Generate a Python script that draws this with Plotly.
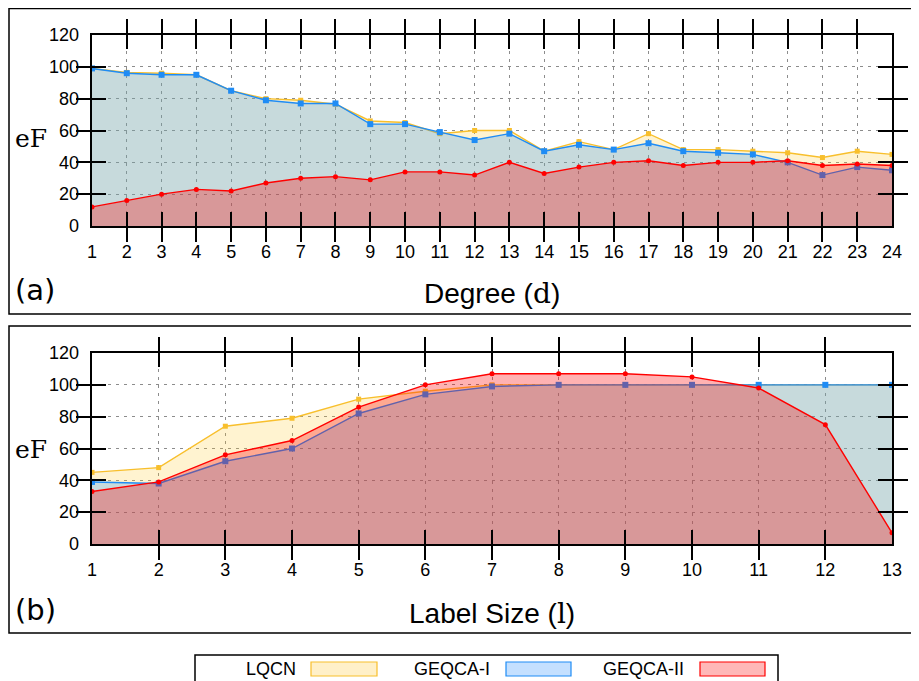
import plotly.graph_objects as go

# ---------------- data ----------------
degree = list(range(1, 25))
lqcn_a = [99, 96.5, 96, 95, 85, 80, 79, 76.5, 66, 65, 58, 60, 60, 47, 53, 48, 58, 48, 48, 47, 46, 43, 47, 45]
geqca1_a = [99, 96, 95, 95, 85, 79, 77, 77, 64, 64, 59, 54, 58, 47, 51, 48, 52, 47, 46, 45, 40, 32, 37, 35]
geqca2_a = [12, 16, 20, 23, 22, 27, 30, 31, 29, 34, 34, 32, 40, 33, 37, 40, 41, 38, 40, 40, 41, 38, 39, 38]

label_size = list(range(1, 14))
lqcn_b = [45, 48, 74, 79, 91, 96, 100, 100, 100, 100, 100, 100, 100]
geqca1_b = [39, 38, 52, 60, 82, 94, 99, 100, 100, 100, 100, 100, 100]
geqca2_b = [33, 39, 56, 65, 86, 100, 107, 107, 107, 105, 98, 75, 7]

series_names = ["LQCN", "GEQCA-I", "GEQCA-II"]
y_ticks = [0, 20, 40, 60, 80, 100, 120]

# ---------------- styles ----------------
OFF = 8                      # page body margin
W, H = 919 - OFF, 681 - OFF
line_cols = ["#f8bf2c", "#1f8cf5", "#ff0000"]
fill_cols = ["rgba(255,200,40,0.22)", "rgba(30,144,255,0.25)", "rgba(255,0,0,0.30)"]
symbols = ["square", "square", "circle"]
msizes = [5, 6, 5]
swatch_fill = ["#fff0c8", "#c4e0ff", "#ffb8b8"]


def px(x):
    return (x - OFF) / W


def py(y):
    return 1 - (y - OFF) / H


fig = go.Figure()

# panel: (x axis, y axis, x label axis, y label axis, x values, series, plot box px)
panels = [
    ("x", "y", "x3", "y3", degree, [lqcn_a, geqca1_a, geqca2_a], (35, 226)),
    ("x2", "y2", "x4", "y4", label_size, [lqcn_b, geqca1_b, geqca2_b], (353, 544)),
]
for xa, ya, xl, yl, xs, ys_list, _ in panels:
    for i, ys in enumerate(ys_list):
        fig.add_trace(go.Scatter(
            x=xs, y=ys, xaxis=xa, yaxis=ya, name=series_names[i],
            mode="lines+markers", fill="tozeroy", fillcolor=fill_cols[i],
            line=dict(color=line_cols[i], width=1.4),
            marker=dict(symbol=symbols[i], size=msizes[i], color=line_cols[i], line=dict(width=0)),
            showlegend=False,
        ))
    # invisible traces that carry the tick-label axes
    fig.add_trace(go.Scatter(x=xs, y=ys_list[0], xaxis=xl, yaxis=ya, mode="markers",
                             marker=dict(opacity=0), showlegend=False, hoverinfo="skip"))
    fig.add_trace(go.Scatter(x=xs, y=ys_list[0], xaxis=xa, yaxis=yl, mode="markers",
                             marker=dict(opacity=0), showlegend=False, hoverinfo="skip"))

frame_axis = dict(
    showline=True, linecolor="black", linewidth=2, mirror="allticks",
    ticks="inside", ticklen=14, tickwidth=1.5, tickcolor="black",
    showgrid=True, gridcolor="#8c8c8c", gridwidth=1, griddash="3px,5px",
    zeroline=False, automargin=False, layer="above traces", showticklabels=False,
)
label_axis = dict(
    showline=False, showgrid=False, zeroline=False, ticks="", automargin=False,
    anchor="free", tickfont=dict(family="Liberation Sans", size=18, color="black"),
)

layout_axes = {}
for n, (xa, ya, xl, yl, xs, ys_list, (top, bot)) in enumerate(panels):
    xname = "xaxis" if xa == "x" else "xaxis" + xa[1:]
    yname = "yaxis" if ya == "y" else "yaxis" + ya[1:]
    xdom = [px(92), px(892)]
    ydom = [py(bot), py(top)]
    xr = [xs[0], xs[-1]]
    layout_axes[xname] = dict(domain=xdom, anchor=ya, range=xr, tickvals=xs, **frame_axis)
    layout_axes[yname] = dict(domain=ydom, anchor=xa, range=[0, 120], tickvals=y_ticks, **frame_axis)
    layout_axes["xaxis" + xl[1:]] = dict(domain=xdom, overlaying=xa, range=xr, tickvals=xs,
                                         side="bottom", position=py(bot + 13), **label_axis)
    layout_axes["yaxis" + yl[1:]] = dict(domain=ydom, overlaying=ya, range=[0, 120], tickvals=y_ticks,
                                         side="left", position=px(79), **label_axis)

fig.update_layout(
    width=W, height=H,
    margin=dict(l=0, r=0, t=0, b=0, autoexpand=False),
    paper_bgcolor="white", plot_bgcolor="white",
    showlegend=False,
    **layout_axes,
)

shapes = []
# outer panel boxes
for (t, b) in [(8.5, 314), (326, 633)]:
    shapes.append(dict(type="rect", xref="paper", yref="paper", x0=px(9), x1=px(930),
                       y0=py(b), y1=py(t), line=dict(color="black", width=1.5), layer="below"))
# legend box
shapes.append(dict(type="rect", xref="paper", yref="paper", x0=px(195), x1=px(778),
                   y0=py(700), y1=py(655), line=dict(color="black", width=1.5)))

annotations = []
leg_text_right = [298, 492, 686]
leg_sw = [(311, 377), (506, 571), (700, 765)]
for i in range(3):
    annotations.append(dict(xref="paper", yref="paper", x=px(leg_text_right[i]), y=py(669),
                            text=series_names[i], showarrow=False, xanchor="right", yanchor="middle",
                            font=dict(family="Liberation Sans", size=18, color="black")))
    shapes.append(dict(type="rect", xref="paper", yref="paper", x0=px(leg_sw[i][0]), x1=px(leg_sw[i][1]),
                       y0=py(676), y1=py(662), fillcolor=swatch_fill[i],
                       line=dict(color=line_cols[i], width=1.2)))

# y-axis labels
for yc in [138, 449]:
    annotations.append(dict(xref="paper", yref="paper", x=px(31), y=py(yc), text="eF",
                            showarrow=False, xanchor="center", yanchor="middle",
                            font=dict(family="DejaVu Serif", size=25, color="black")))
# panel letters
for yc, t in [(290, "(a)"), (610, "(b)")]:
    annotations.append(dict(xref="paper", yref="paper", x=px(13), y=py(yc), text=t,
                            showarrow=False, xanchor="left", yanchor="middle",
                            font=dict(family="DejaVu Sans", size=29, color="black")))
# x titles
for yc, t in [(293, "Degree (<span style='font-family:DejaVu Serif'>d</span>)"),
              (613, "Label Size (<span style='font-family:DejaVu Serif'>l</span>)")]:
    annotations.append(dict(xref="paper", yref="paper", x=px(492), y=py(yc), text=t,
                            showarrow=False, xanchor="center", yanchor="middle",
                            font=dict(family="Liberation Sans", size=28, color="black")))

fig.update_layout(shapes=shapes, annotations=annotations)
fig.write_html("out.html")
